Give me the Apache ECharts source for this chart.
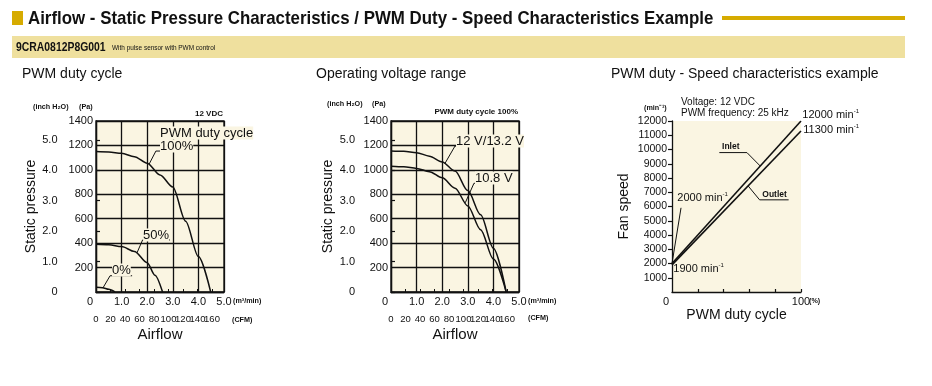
<!DOCTYPE html>
<html><head><meta charset="utf-8">
<script src="https://cdn.jsdelivr.net/npm/echarts@6/dist/echarts.min.js"></script>
<style>html,body{margin:0;padding:0;background:#fff}#c{width:932px;height:386px}</style>
</head><body><div id="c"></div>
<script>
// ---------- data ----------
const PA_PER_INCH = 249.089;
const CFM_PER_M3 = 35.3147;

const flowTicks = [0, 1, 2, 3, 4, 5];
const cfmTicks = [0, 20, 40, 60, 80, 100, 120, 140, 160];
const inchTicks = [0, 1, 2, 3, 4, 5];
const dutyTicks = [20, 40, 60, 80, 100];
const dutyLabels = [0, 100];
const speedTicks = [1000, 2000, 3000, 4000, 5000, 6000, 7000, 8000, 9000, 10000, 11000, 12000];

// PWM duty cycle chart (m3/min, Pa)
const duty100Flow = [0, 0.5, 1.0, 1.5, 2.0, 2.5, 3.0, 3.5, 4.0, 4.48];
const duty100Pa   = [1150, 1147, 1135, 1108, 1055, 958, 860, 580, 290, 0];
const duty50Flow  = [0, 0.5, 1.0, 1.5, 2.0, 2.3, 2.6];
const duty50Pa    = [390, 386, 372, 332, 240, 138, 0];
const duty0Flow   = [0, 0.25, 0.5, 0.74];
const duty0Pa     = [38, 35, 22, 0];

// Operating voltage range chart (m3/min, Pa)
const v132Flow = [0, 0.5, 1.0, 1.5, 2.0, 2.5, 3.0, 3.5, 4.0, 4.5];
const v132Pa   = [1155, 1152, 1141, 1112, 1065, 990, 830, 632, 358, 0];
const v108Flow = [0, 0.5, 1.0, 1.5, 2.0, 2.5, 3.0, 3.5, 4.0, 4.5];
const v108Pa   = [1030, 1025, 1012, 985, 935, 850, 705, 510, 270, 0];

// PWM duty - speed chart (%, min-1)
const inletDuty   = [0, 100];
const inletSpeed  = [2000, 12000];
const outletDuty  = [0, 100];
const outletSpeed = [1900, 11300];

// ---------- styles ----------
const SANS = "'Liberation Sans',Arial,Helvetica,sans-serif";
const INK = '#111';
const BEIGE = '#faf5e2';
const GOLD = '#d6ab00';
const GRIDLINE = {color: INK, width: 1.3};

const zip = (xs, ys) => xs.map((x, i) => [x, ys[i]]);

function flowAxis(g) {
  return {
    type: 'value', gridIndex: g, min: 0, max: 5, interval: 1, position: 'bottom',
    axisLine: {show: false}, axisTick: {show: false},
    splitLine: {show: true, lineStyle: GRIDLINE},
    axisLabel: {
      margin: 4, color: INK, fontFamily: SANS, fontSize: 11, showMinLabel: true, showMaxLabel: true,
      formatter: v => v === 0 ? '{z|0}' : v.toFixed(1),
      rich: {z: {padding: [0, 12, 0, 0], fontFamily: SANS, fontSize: 11, color: INK}}
    }
  };
}
function cfmAxis(g) {
  const cfmMax = 5 * CFM_PER_M3;
  return {
    type: 'value', gridIndex: g, min: 0, max: cfmMax, position: 'bottom', offset: 19.5,
    axisLine: {show: true, lineStyle: {color: INK, width: 1.3}},
    axisTick: {show: true, inside: true, length: 3, customValues: cfmTicks, lineStyle: {color: INK, width: 1}},
    axisLabel: {customValues: cfmTicks.concat([cfmMax]), margin: 3, color: INK, fontFamily: SANS, fontSize: 9.5,
      showMinLabel: true, showMaxLabel: true,
      formatter: v => v > 170 ? '' : String(v)},
    splitLine: {show: false},
    name: 'Airflow', nameLocation: 'middle', nameGap: 16,
    nameTextStyle: {fontFamily: SANS, fontSize: 15, color: INK}
  };
}
function paAxis(g) {
  return {
    type: 'value', gridIndex: g, min: 0, max: 1400, interval: 200, position: 'left',
    axisLine: {show: false}, axisTick: {show: false},
    splitLine: {show: true, lineStyle: GRIDLINE},
    axisLabel: {margin: 3, color: INK, fontFamily: SANS, fontSize: 11, showMaxLabel: true,
      formatter: v => v === 0 ? '' : String(v)}
  };
}
function inchAxis(g, off, gap) {
  return {
    type: 'value', gridIndex: g, min: 0, max: 1400 / PA_PER_INCH, position: 'left', offset: off,
    axisLine: {show: true, lineStyle: {color: INK, width: 1.3}},
    axisTick: {show: true, inside: true, length: 4, customValues: inchTicks, lineStyle: {color: INK, width: 1.2}},
    axisLabel: {customValues: inchTicks, margin: 6, color: INK, fontFamily: SANS, fontSize: 11,
      showMinLabel: true, showMaxLabel: true,
      formatter: v => v === 0 ? '0' : v.toFixed(1)},
    splitLine: {show: false},
    name: 'Static pressure', nameLocation: 'middle', nameGap: gap,
    nameTextStyle: {fontFamily: SANS, fontSize: 14, color: INK}
  };
}
function curve(name, xi, yi, xs, ys) {
  return {
    name, type: 'line', xAxisIndex: xi, yAxisIndex: yi, data: zip(xs, ys),
    smooth: 0.3, smoothMonotone: 'x', symbol: 'none', lineStyle: {color: INK, width: 1.5}, z: 3, silent: true
  };
}

const chart = echarts.init(document.getElementById('c'), null, {renderer: 'canvas'});

chart.setOption({
  animation: false,
  backgroundColor: '#fff',
  grid: [
    {left: 96, top: 121, width: 128, height: 171, show: true, backgroundColor: BEIGE, borderColor: INK, borderWidth: 1.3},
    {left: 391, top: 121, width: 128, height: 171, show: true, backgroundColor: BEIGE, borderColor: INK, borderWidth: 1.3},
    {left: 672, top: 121, width: 129, height: 171, show: true, backgroundColor: BEIGE, borderWidth: 0}
  ],
  xAxis: [
    flowAxis(0), cfmAxis(0), flowAxis(1), cfmAxis(1),
    {
      type: 'value', gridIndex: 2, min: 0, max: 100, interval: 20, position: 'bottom',
      axisLine: {show: true, lineStyle: {color: INK, width: 1.3}},
      axisTick: {show: true, inside: true, length: 3, customValues: dutyTicks, lineStyle: {color: INK, width: 1.2}},
      axisLabel: {customValues: dutyLabels, margin: 4, color: INK, fontFamily: SANS, fontSize: 11,
        showMinLabel: true, showMaxLabel: true,
        formatter: v => v === 0 ? '{z|0}' : String(v),
        rich: {z: {padding: [0, 12, 0, 0], fontFamily: SANS, fontSize: 11, color: INK}}},
      splitLine: {show: false},
      name: 'PWM duty cycle', nameLocation: 'middle', nameGap: 16,
      nameTextStyle: {fontFamily: SANS, fontSize: 14, color: INK}
    }
  ],
  yAxis: [
    paAxis(0), inchAxis(0, 32.5, 20), paAxis(1), inchAxis(1, 30, 26),
    {
      type: 'value', gridIndex: 2, min: 0, max: 12000, interval: 1000, position: 'left',
      axisLine: {show: true, lineStyle: {color: INK, width: 1.3}},
      axisTick: {show: true, inside: false, length: 4, customValues: speedTicks, lineStyle: {color: INK, width: 1.2}},
      axisLabel: {customValues: speedTicks, margin: 5, color: INK, fontFamily: SANS, fontSize: 10.5,
        showMaxLabel: true, formatter: v => String(v)},
      splitLine: {show: false},
      name: 'Fan speed', nameLocation: 'middle', nameGap: 41,
      nameTextStyle: {fontFamily: SANS, fontSize: 14, color: INK}
    }
  ],
  series: [
    curve('100%', 0, 0, duty100Flow, duty100Pa),
    curve('50%', 0, 0, duty50Flow, duty50Pa),
    curve('0%', 0, 0, duty0Flow, duty0Pa),
    curve('12 V/13.2 V', 2, 2, v132Flow, v132Pa),
    curve('10.8 V', 2, 2, v108Flow, v108Pa),
    {name: 'Inlet', type: 'line', xAxisIndex: 4, yAxisIndex: 4, data: zip(inletDuty, inletSpeed),
      symbol: 'none', lineStyle: {color: INK, width: 1.6}, z: 3, silent: true},
    {name: 'Outlet', type: 'line', xAxisIndex: 4, yAxisIndex: 4, data: zip(outletDuty, outletSpeed),
      symbol: 'none', lineStyle: {color: INK, width: 1.6}, z: 3, silent: true}
  ]
});

// ---------- annotations (positioned in data coordinates) ----------
const AX = {0: [0, 0], 1: [2, 2], 2: [4, 4]};
const P = (g, x, y) => chart.convertToPixel({xAxisIndex: AX[g][0], yAxisIndex: AX[g][1]}, [x, y]);

const G = [];
function txt(x, y, text, o, sx) {
  o = o || {};
  G.push({type: 'text', x, y, z: 100, scaleX: sx || 1, style: Object.assign({
    text, fill: INK, fontFamily: SANS, fontSize: 12, align: 'left', verticalAlign: 'middle'
  }, o)});
}
function dtxt(g, dx, dy, text, o) { const p = P(g, dx, dy); txt(p[0], p[1], text, o); }
function pline(pts, w) {
  G.push({type: 'polyline', z: 99, shape: {points: pts}, style: {stroke: INK, lineWidth: w || 1, fill: null}});
}
function callout(g, text, tx, ty, uy, u0, u1, ax, ay, o) {
  dtxt(g, tx, ty, text, o);
  const a = P(g, ax, ay), b = P(g, u0, uy), c = P(g, u1, uy);
  pline([a, b, c], 1);
}
const SUP = (main, fs) => ({
  text: '{a|' + main + '}{s|-1}',
  rich: {a: {fontFamily: SANS, fontSize: fs, lineHeight: fs + 2, fill: INK},
         s: {fontFamily: SANS, fontSize: Math.round(fs * 0.55), lineHeight: 7, verticalAlign: 'top', fill: INK}}
});

// Header
G.push({type: 'rect', z: 100, shape: {x: 12, y: 11, width: 11, height: 14}, style: {fill: GOLD}});
txt(28, 18.5, 'Airflow - Static Pressure Characteristics / PWM Duty - Speed Characteristics Example',
  {fontWeight: 'bold', fontSize: 19}, 0.888);
G.push({type: 'rect', z: 100, shape: {x: 722, y: 16, width: 183, height: 4}, style: {fill: GOLD}});
G.push({type: 'rect', z: 90, shape: {x: 12, y: 36, width: 893, height: 22}, style: {fill: '#efe09e'}});
txt(16, 47, '9CRA0812P8G001', {fontWeight: 'bold', fontSize: 13}, 0.8);
txt(112, 48, 'With pulse sensor with PWM control', {fontSize: 7.5}, 0.86);

// Chart titles
txt(22, 74, 'PWM duty cycle', {fontSize: 14});
txt(316, 74, 'Operating voltage range', {fontSize: 14});
txt(611, 74, 'PWM duty - Speed characteristics example', {fontSize: 14});

// Unit captions
const small = {fontWeight: 'bold', fontSize: 8};
txt(33, 107, '(inch H\u2082O)', small, 0.9);
txt(79, 107, '(Pa)', small, 0.9);
txt(223, 114, '12 VDC', Object.assign({}, small, {align: 'right'}));
txt(233, 301, '(m\u00b3/min)', small, 0.9);
txt(232, 320, '(CFM)', small, 0.9);

txt(327, 104, '(inch H\u2082O)', small, 0.9);
txt(372, 104, '(Pa)', small, 0.9);
txt(518, 112, 'PWM duty cycle 100%', Object.assign({}, small, {align: 'right'}));
txt(528, 301, '(m\u00b3/min)', small, 0.9);
txt(528, 318, '(CFM)', small, 0.9);

txt(644, 108, '(min\u207b\u00b9)', small, 0.9);
txt(809, 301, '(%)', small, 0.9);
txt(681, 102, 'Voltage: 12 VDC', {fontSize: 10});
txt(681, 113, 'PWM frequency: 25 kHz', {fontSize: 10});

// Callouts: PWM duty cycle chart
const bg = {backgroundColor: BEIGE, fontSize: 13};
dtxt(0, 2.5, 1302, 'PWM duty cycle', bg);
callout(0, '100%', 2.5, 1195, 1154, 2.34, 3.59, 2.07, 1045, bg);
callout(0, '50%', 1.84, 467, 426, 1.82, 2.89, 1.6, 320, bg);
callout(0, '0%', 0.625, 180, 133, 0.55, 1.41, 0.27, 33, bg);

// Callouts: operating voltage chart
callout(1, '12 V/13.2 V', 2.54, 1236, 1195, 2.5, 4.92, 2.1, 1050, bg);
callout(1, '10.8 V', 3.28, 933, 890, 3.24, 4.65, 2.9, 730, bg);

// Callouts: speed chart
const tag = {fontWeight: 'bold', fontSize: 8.5};
callout(2, 'Inlet', 38.8, 10182, 9783, 58.1, 36.7, 68.4, 8840, tag);
callout(2, 'Outlet', 70, 6819, 6468, 67.9, 90.4, 59, 7446, tag);
dtxt(2, 4.1, 6629, '', SUP('2000 min', 11));
pline([P(2, 7.0, 5907), P(2, 0, 2000)], 1);
dtxt(2, 1.0, 1633, '', SUP('1900 min', 11));
dtxt(2, 101, 12425, '', SUP('12000 min', 11));
dtxt(2, 101.8, 11374, '', SUP('11300 min', 11));

chart.setOption({graphic: G});
</script></body></html>
